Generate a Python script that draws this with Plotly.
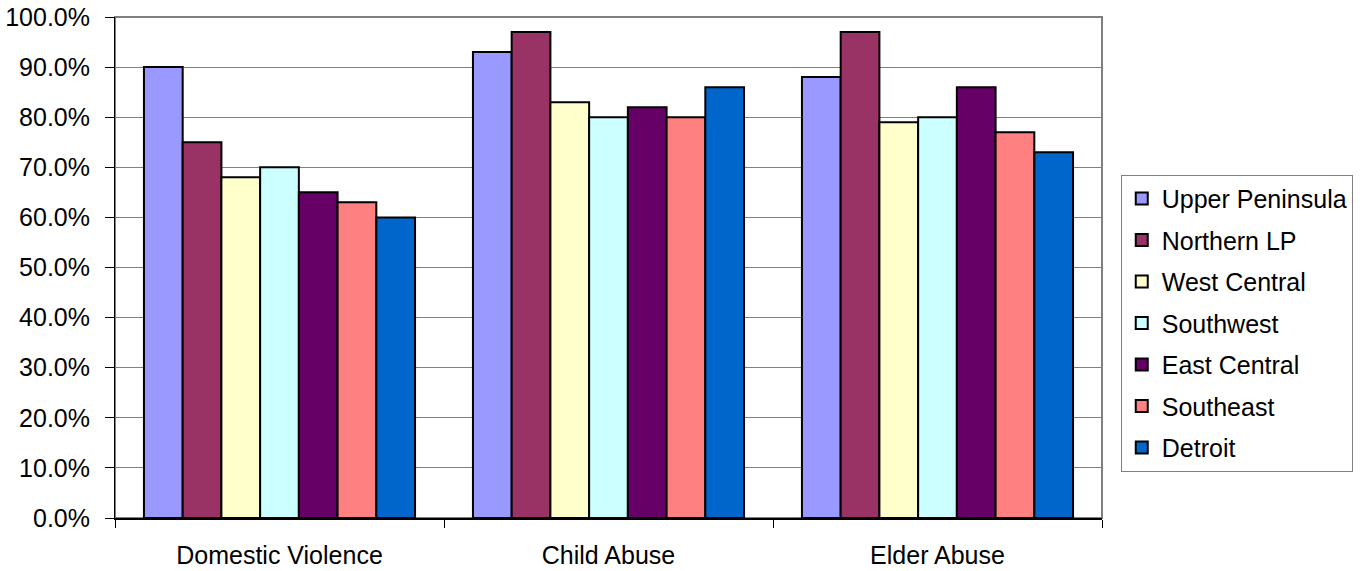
import plotly.graph_objects as go

categories = ["Domestic Violence", "Child Abuse", "Elder Abuse"]

regions = ["Upper Peninsula", "Northern LP", "West Central", "Southwest",
           "East Central", "Southeast", "Detroit"]

upper_peninsula = [90, 93, 88]
northern_lp = [75, 97, 97]
west_central = [68, 83, 79]
southwest = [70, 80, 80]
east_central = [65, 82, 86]
southeast = [63, 80, 77]
detroit = [60, 86, 73]

series = [upper_peninsula, northern_lp, west_central, southwest,
          east_central, southeast, detroit]

colors = ["#9999FF", "#993366", "#FFFFCC", "#CCFFFF",
          "#660066", "#FF8080", "#0066CC"]

y_ticks = list(range(0, 101, 10))
y_tick_labels = [f"{v:.1f}%" for v in y_ticks]

FONT = "Arial, Liberation Sans, sans-serif"
FS = 25

fig = go.Figure()
for name, vals, col in zip(regions, series, colors):
    fig.add_trace(go.Bar(
        name=name, x=categories, y=vals,
        marker=dict(color=col, line=dict(color="#000000", width=2)),
        legendgroup=name,
    ))

fig.update_layout(
    width=1363, height=571,
    margin=dict(l=115, r=261, t=17, b=53, autoexpand=False),
    paper_bgcolor="white", plot_bgcolor="white",
    barmode="group", bargap=0.176, bargroupgap=0,
    font=dict(family=FONT, size=FS, color="#000000"),
    showlegend=True,
    legend=dict(
        x=1.019, y=0.685, xanchor="left", yanchor="top",
        bordercolor="#808080", borderwidth=1,
        font=dict(family=FONT, size=FS, color="#000000"),
        traceorder="grouped", tracegroupgap=6,
        itemwidth=30,
    ),
    shapes=[dict(type="rect", xref="paper", yref="paper", x0=0, x1=1, y0=0, y1=1,
                 line=dict(color="#808080", width=2), layer="below")],
)

fig.update_yaxes(
    range=[0, 100], tickvals=y_ticks, ticktext=y_tick_labels,
    showgrid=True, gridcolor="#808080", gridwidth=1,
    ticks="outside", ticklen=9, tickcolor="#000000",
    showline=True, linecolor="#000000", linewidth=1,
    ticklabelstandoff=10, zeroline=False, automargin=False,
    tickfont=dict(family=FONT, size=FS),
)
fig.update_xaxes(
    tickson="boundaries", ticks="outside", ticklen=8, tickcolor="#000000",
    showline=True, linecolor="#000000", linewidth=2, automargin=False,
    tickfont=dict(family=FONT, size=FS), ticklabelstandoff=14,
)

fig.write_html("out.html")
